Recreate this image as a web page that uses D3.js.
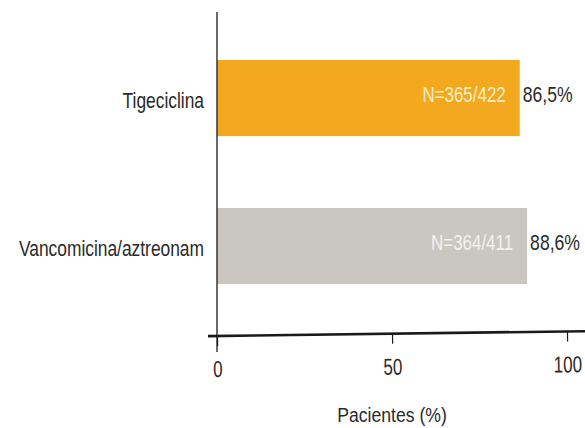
<!DOCTYPE html>
<html>
<head>
<meta charset="utf-8">
<script src="https://cdn.jsdelivr.net/npm/d3@7"></script>
<style>
  html, body { margin: 0; padding: 0; background: #ffffff; }
  svg { display: block; }
  text { font-family: "Liberation Sans", Arial, sans-serif; fill: #2a2a2a; }
</style>
</head>
<body>
<svg id="chart" width="585" height="428"></svg>
<script>
// Treatment arms and their cure rates (%)
const categories = ["Tigeciclina", "Vancomicina/aztreonam"];
const values = [86.5, 88.6];
const counts = ["N=365/422", "N=364/411"];
const valueLabels = ["86,5%", "88,6%"];
const tickValues = [0, 50, 100];
const axisTitle = "Pacientes (%)";

const barColors = ["#f2a91f", "#cac6c0"];
const innerTextColors = ["#f8eec6", "#f3f1ed"];

const svg = d3.select("#chart");

// Place a text at (px, py) and narrow it horizontally for a condensed look
const placed = (px, py, ratio) => `translate(${px},${py}) scale(${ratio},1)`;

const x = d3.scaleLinear().domain([0, 100]).range([217, 567]);
const bandY = d3.scaleBand().domain(categories)
  .range([15.6, 328.5]).paddingInner(0.486).paddingOuter(0.3);
const mid = d => bandY(d) + bandY.bandwidth() / 2;

// Bars
svg.selectAll("rect.bar")
  .data(categories)
  .join("rect")
  .attr("class", "bar")
  .attr("x", x(0))
  .attr("y", d => bandY(d))
  .attr("width", (d, i) => x(values[i]) - x(0))
  .attr("height", bandY.bandwidth())
  .attr("fill", (d, i) => barColors[i]);

// Counts inside bars
svg.selectAll("text.count")
  .data(categories)
  .join("text")
  .attr("class", "count")
  .attr("transform", (d, i) => placed(x(values[i]) - 14, mid(d) + 4, 0.77))
  .attr("text-anchor", "end")
  .style("font-size", "22px")
  .style("fill", (d, i) => innerTextColors[i])
  .text((d, i) => counts[i]);

// Percent labels after bars
svg.selectAll("text.pct")
  .data(categories)
  .join("text")
  .attr("class", "pct")
  .attr("transform", (d, i) => placed(x(values[i]) + 3, mid(d) + 4, 0.8))
  .style("font-size", "22px")
  .text((d, i) => valueLabels[i]);

// Category labels
svg.selectAll("text.cat")
  .data(categories)
  .join("text")
  .attr("class", "cat")
  .attr("transform", d => placed(204, mid(d) + 10, 0.79))
  .attr("text-anchor", "end")
  .style("font-size", "22px")
  .text(d => d);

// Vertical axis line
svg.append("line")
  .attr("x1", x(0)).attr("x2", x(0))
  .attr("y1", 12).attr("y2", 352)
  .attr("stroke", "#1a1a1a").attr("stroke-width", 1.3);

// Horizontal axis, slightly tilted as printed
const axisG = svg.append("g")
  .attr("transform", `rotate(-0.75, ${x(0)}, 336) translate(0,336)`);

axisG.append("line")
  .attr("x1", 208).attr("x2", 590)
  .attr("y1", 0).attr("y2", 0)
  .attr("stroke", "#1a1a1a").attr("stroke-width", 2.6);

axisG.call(d3.axisBottom(x).tickValues(tickValues).tickSize(10).tickFormat(d3.format("d")))
  .call(g => g.select(".domain").remove())
  .call(g => g.selectAll(".tick line").attr("stroke", "#1a1a1a").attr("stroke-width", 1.2))
  .call(g => g.selectAll(".tick text")
    .attr("y", null).attr("dy", null)
    .attr("transform", placed(0, 41, 0.74))
    .style("font-size", "23px")
    .style("font-family", "\"Liberation Sans\", Arial, sans-serif")
    .attr("fill", "#2a2a2a"));

// Axis title
svg.append("text")
  .attr("transform", placed(x(50), 422, 0.84))
  .attr("text-anchor", "middle")
  .style("font-size", "21px")
  .text(axisTitle);
</script>
</body>
</html>
